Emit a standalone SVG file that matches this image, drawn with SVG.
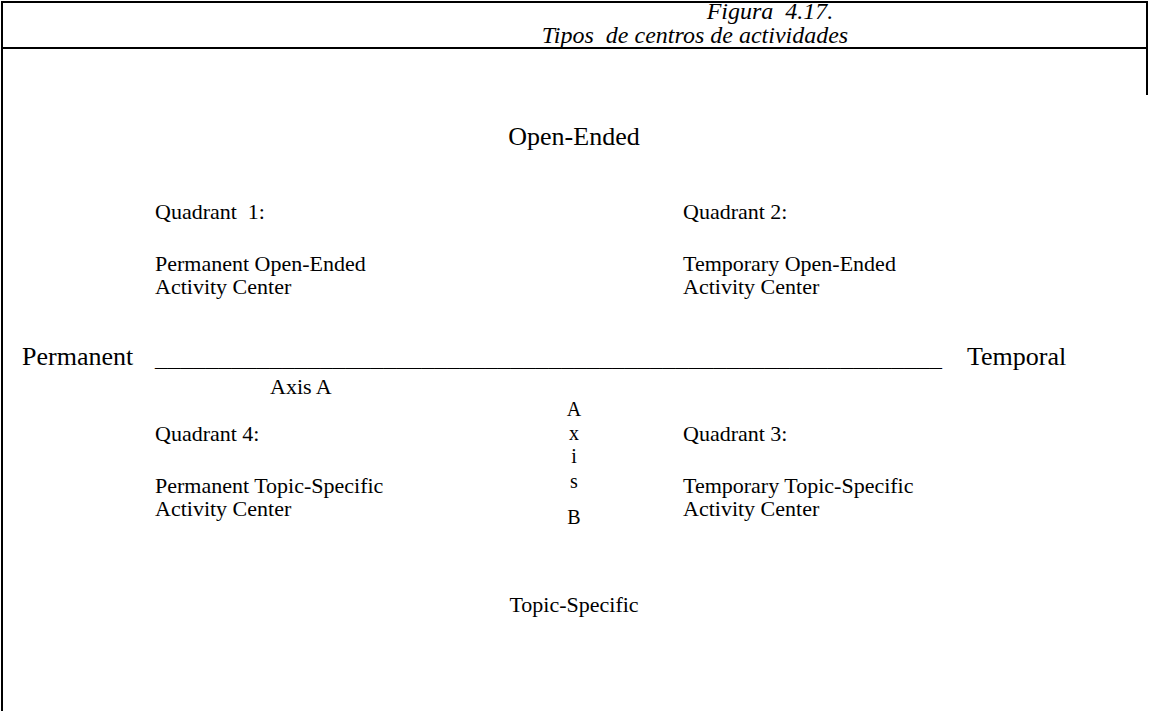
<svg xmlns="http://www.w3.org/2000/svg" width="1149" height="711" viewBox="0 0 1149 711">
<style>
text{white-space:pre}
.t{font-family:"Liberation Serif","Times New Roman",serif;font-size:22px;fill:#000}
.b{font-size:26px}
.ax{font-size:20px}
.ti{font-family:"Liberation Serif","Times New Roman",serif;font-size:24px;font-style:italic;fill:#000}
.c{text-anchor:middle}
.ln{stroke:#000;stroke-width:2;fill:none}
</style>
<rect width="1149" height="711" fill="#fff"/>
<g id="frame">
<line class="ln" x1="1" y1="2" x2="1148" y2="2"/>
<line class="ln" x1="1" y1="48" x2="1148" y2="48"/>
<line class="ln" x1="2" y1="1" x2="2" y2="711"/>
<line class="ln" x1="1147" y1="1" x2="1147" y2="95"/>
</g>
<g id="title">
<text class="ti c" x="770" y="19">Figura  4.17.</text>
<text class="ti c" x="695" y="43">Tipos  de centros de actividades</text>
</g>
<g id="top-label"><text class="t b c" x="574" y="145">Open-Ended</text></g>
<g id="q1">
<text class="t" x="155" y="219">Quadrant  1:</text>
<text class="t" x="155" y="271">Permanent Open-Ended</text>
<text class="t" x="155" y="294">Activity Center</text>
</g>
<g id="q2">
<text class="t" x="683" y="219">Quadrant 2:</text>
<text class="t" x="683" y="271">Temporary Open-Ended</text>
<text class="t" x="683" y="294">Activity Center</text>
</g>
<g id="connectors">
<text class="t" x="155" y="366" textLength="787" lengthAdjust="spacingAndGlyphs">______________________________________________________________</text>
</g>
<g id="axis-a">
<text class="t b" x="22" y="365">Permanent</text>
<text class="t b" x="967" y="365">Temporal</text>
<text class="t" x="270" y="394">Axis A</text>
</g>
<g id="axis-b">
<text class="t ax c" x="574" y="416">A</text>
<text class="t ax c" x="574" y="440">x</text>
<text class="t ax c" x="574" y="463">i</text>
<text class="t ax c" x="574" y="488">s</text>
<text class="t ax c" x="574" y="524">B</text>
</g>
<g id="q4">
<text class="t" x="155" y="441">Quadrant 4:</text>
<text class="t" x="155" y="493">Permanent Topic-Specific</text>
<text class="t" x="155" y="516">Activity Center</text>
</g>
<g id="q3">
<text class="t" x="683" y="441">Quadrant 3:</text>
<text class="t" x="683" y="493">Temporary Topic-Specific</text>
<text class="t" x="683" y="516">Activity Center</text>
</g>
<g id="bottom-label"><text class="t c" x="574" y="612">Topic-Specific</text></g>
</svg>
